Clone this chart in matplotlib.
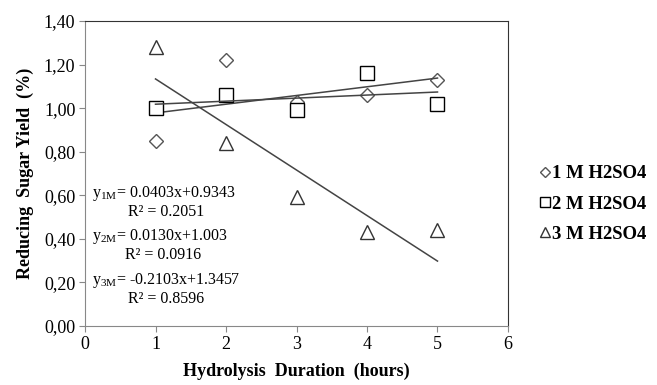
import numpy as np
import matplotlib
matplotlib.use("Agg")
import matplotlib.pyplot as plt

plt.rcParams['font.family'] = ['Liberation Serif', 'DejaVu Serif']
plt.rcParams['mathtext.fontset'] = 'custom'
plt.rcParams['mathtext.rm'] = 'Liberation Serif'
plt.rcParams['mathtext.it'] = 'Liberation Serif'

# hydrolysis duration (hours)
hours = [1, 2, 3, 4, 5]
# reducing sugar yield (%)
y_1m = [0.85, 1.22, 1.03, 1.06, 1.13]
y_2m = [1.00, 1.06, 0.99, 1.16, 1.02]
y_3m = [1.28, 0.84, 0.59, 0.43, 0.44]
labels = ["1 M H2SO4", "2 M H2SO4", "3 M H2SO4"]
eqs = [r"y$_{\rm 1M}$= 0.0403x+0.9343", r"y$_{\rm 2M}$= 0.0130x+1.003", r"y$_{\rm 3M}$= -0.2103x+1.3457"]
r2s = ["R² = 0.2051", "R² = 0.0916", "R² = 0.8596"]

fig = plt.figure(figsize=(6.57, 3.85), dpi=100)
ax = fig.add_axes([0.1294, 0.1532, 0.6438, 0.7923])

series = [(y_1m, "D", "#555555", 7.5), (y_2m, "s", "black", 10.5), (y_3m, "^", "#333333", 10.5)]
x = np.array(hours)
for (ys, m, c, ms), lab in zip(series, labels):
    ax.plot(hours, ys, linestyle="none", marker=m, markersize=ms, markerfacecolor="white",
            markeredgecolor=c, markeredgewidth=1.0, label=lab)
    k, b = np.polyfit(x, ys, 1)
    ax.plot([1, 5], [k * 1 + b, k * 5 + b], color="#444444", linewidth=1.1)

ax.set_xlim(0, 6)
ax.set_ylim(0, 1.4)
ax.set_xticks(range(7))
yt = np.arange(0, 1.41, 0.2)
ax.set_yticks(yt)
ax.set_yticklabels([f"{v:.2f}".replace(".", ",") for v in yt])
ax.tick_params(direction="out", length=4, labelsize=13, color="#888888", pad=3)
for s in ["left", "bottom"]:
    ax.spines[s].set_color("#888888")
for s in ["top", "right"]:
    ax.spines[s].set_color("#333333")

ax.set_xlabel("Hydrolysis  Duration  (hours)", fontsize=13, fontweight="bold", labelpad=7)
ax.set_ylabel("Reducing  Sugar Yield  (%)", fontsize=13, fontweight="bold", labelpad=7)

eq_y = [0.607, 0.412, 0.207]
r2_y = [0.522, 0.327, 0.122]
r2_x = [0.61, 0.57, 0.61]
for e, r, yy, ry, rx in zip(eqs, r2s, eq_y, r2_y, r2_x):
    ax.text(0.1, yy, e, fontsize=11.5, va="center", ha="left")
    ax.text(rx, ry, r, fontsize=11.5, va="center", ha="left")

leg = ax.legend(loc="center left", bbox_to_anchor=(1.075, 0.40), frameon=False,
                borderpad=0, borderaxespad=0,
                handlelength=0.55, handletextpad=0.1, labelspacing=0.7,
                prop={"weight": "bold", "size": 13.5, "family": "Liberation Serif"}, markerscale=0.7)

fig.savefig("out.png", dpi=100)
